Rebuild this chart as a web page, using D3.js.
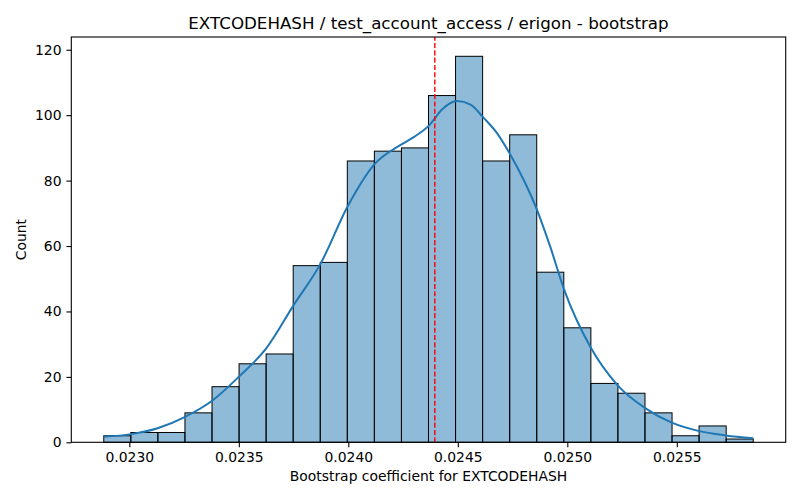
<!DOCTYPE html>
<html>
<head>
<meta charset="utf-8">
<script src="https://cdn.jsdelivr.net/npm/d3@7"></script>
<style>
  body { margin: 0; background: #fff; }
  svg { font-family: "DejaVu Sans", sans-serif; }
</style>
</head>
<body>
<svg id="chart" width="800" height="500"></svg>
<script>
// ---- data ----
const binEdges = [0.0228833, 0.0230069, 0.0231305, 0.0232540, 0.0233776, 0.0235012,
  0.0236247, 0.0237483, 0.0238719, 0.0239954, 0.0241190, 0.0242426, 0.0243661,
  0.0244897, 0.0246133, 0.0247369, 0.0248604, 0.0249840, 0.0251076, 0.0252311,
  0.0253547, 0.0254783, 0.0256018, 0.0257254, 0.0258490];
const counts = [2, 3, 3, 9, 17, 24, 27, 54, 55, 86, 89, 90, 106, 118, 86, 94, 52, 35, 18, 15, 9, 2, 5, 1];
const kdeX = [0.022883, 0.023008, 0.023129, 0.023255, 0.023378, 0.023501, 0.023625, 0.023751,
  0.023874, 0.023996, 0.024117, 0.024239, 0.024299, 0.024368, 0.024429, 0.024497,
  0.024558, 0.024619, 0.024679, 0.024740, 0.024801, 0.024862, 0.024922, 0.024986,
  0.025105, 0.025229, 0.025352, 0.025477, 0.025598, 0.025723, 0.025849];
const kdeY = [1.7, 2.5, 4.3, 7.8, 12.7, 20.1, 28.7, 42.0,
  54.7, 72.0, 84.8, 90.9, 93.3, 96.8, 101.8, 104.3,
  103.2, 99.1, 94.5, 87.9, 80.2, 71.0, 59.8, 46.6,
  29.2, 17.5, 10.6, 6.0, 3.5, 2.1, 1.2];
const refLine = 0.024395;
const xTicks = [0.0230, 0.0235, 0.0240, 0.0245, 0.0250, 0.0255];
const yTicks = [0, 20, 40, 60, 80, 100, 120];
const title = "EXTCODEHASH / test_account_access / erigon - bootstrap";
const xLabel = "Bootstrap coefficient for EXTCODEHASH";
const yLabel = "Count";

// ---- layout ----
const L = 71.3, R = 785.7, T = 37, B = 442.3;
const svg = d3.select("#chart");

const xmin = binEdges[0], xmax = binEdges[binEdges.length - 1];
const pad = (xmax - xmin) * 0.05;
const x = d3.scaleLinear().domain([xmin - pad, xmax + pad]).range([L, R]);
const y = d3.scaleLinear().domain([0, d3.max(counts) * 1.05]).range([B, T]);

const bars = counts.map((c, i) => ({ x0: binEdges[i], x1: binEdges[i + 1], c }));

svg.append("g").selectAll("rect").data(bars).join("rect")
  .attr("x", d => x(d.x0))
  .attr("y", d => y(d.c))
  .attr("width", d => x(d.x1) - x(d.x0))
  .attr("height", d => y(0) - y(d.c))
  .attr("fill", "#1f77b4")
  .attr("fill-opacity", 0.5)
  .attr("stroke", "#000")
  .attr("stroke-width", 1);

const line = d3.line().x(d => x(d[0])).y(d => y(d[1])).curve(d3.curveMonotoneX);
svg.append("path")
  .attr("d", line(kdeX.map((v, i) => [v, kdeY[i]])))
  .attr("fill", "none")
  .attr("stroke", "#1f77b4")
  .attr("stroke-width", 2);

svg.append("line")
  .attr("x1", x(refLine)).attr("x2", x(refLine))
  .attr("y1", B).attr("y2", T)
  .attr("stroke", "red")
  .attr("stroke-width", 1.4)
  .attr("stroke-dasharray", "5.1,2.2");

// axes
const xAxis = d3.axisBottom(x).tickValues(xTicks).tickFormat(d3.format(".4f"))
  .tickSizeInner(4.9).tickSizeOuter(0).tickPadding(4.9);
const gx = svg.append("g").attr("transform", `translate(0,${B})`).call(xAxis);
const yAxis = d3.axisLeft(y).tickValues(yTicks).tickFormat(d3.format("d"))
  .tickSizeInner(4.9).tickSizeOuter(0).tickPadding(4.9);
const gy = svg.append("g").attr("transform", `translate(${L},0)`).call(yAxis);
[gx, gy].forEach(g => {
  g.select(".domain").remove();
  g.selectAll(".tick line").attr("stroke", "#000").attr("stroke-width", 1.1);
  g.selectAll(".tick text").attr("fill", "#000").attr("font-size", 13.9)
    .attr("font-family", "DejaVu Sans, sans-serif");
});

// frame
svg.append("rect").attr("x", L).attr("y", T).attr("width", R - L).attr("height", B - T)
  .attr("fill", "none").attr("stroke", "#000").attr("stroke-width", 1.1);

// labels
svg.append("text").attr("x", (L + R) / 2).attr("y", 29)
  .attr("text-anchor", "middle").attr("font-size", 16.7).attr("fill", "#000").text(title);
svg.append("text").attr("x", (L + R) / 2).attr("y", 481)
  .attr("text-anchor", "middle").attr("font-size", 13.9).attr("fill", "#000").text(xLabel);
svg.append("text").attr("transform", `translate(26,${(T + B) / 2}) rotate(-90)`)
  .attr("text-anchor", "middle").attr("font-size", 13.9).attr("fill", "#000").text(yLabel);
</script>
</body>
</html>
